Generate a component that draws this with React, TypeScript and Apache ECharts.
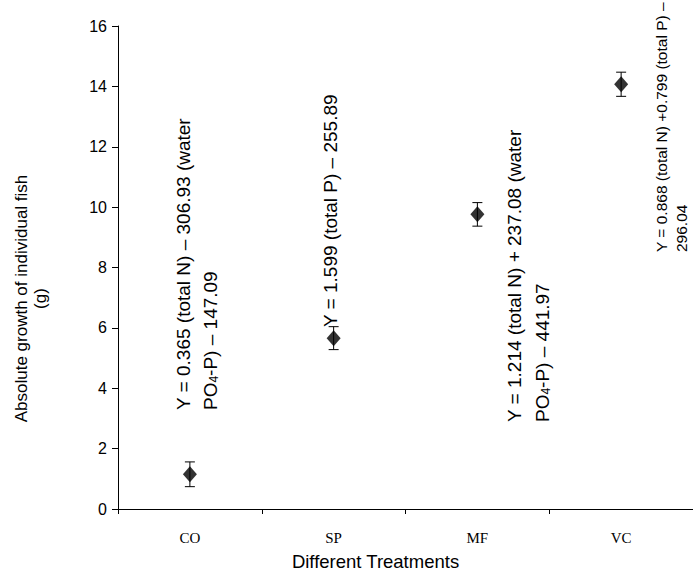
import React, { useEffect, useRef } from 'react';
import * as echarts from 'echarts';

// ---- data ----
const categories = ['CO', 'SP', 'MF', 'VC'];
const growthMean = [1.15, 5.66, 9.76, 14.07];
const growthError = [0.41, 0.38, 0.39, 0.4];
const yMin = 0;
const yMax = 16;
const yStep = 2;
const yAxisTitle = 'Absolute growth of individual fish\n(g)';
const xAxisTitle = 'Different Treatments';
const equationLines = [
  ['Y = 0.365 (total N) – 306.93 (water', 'PO{s|4}-P) – 147.09'],
  ['Y = 1.599 (total P) – 255.89'],
  ['Y = 1.214 (total N) + 237.08 (water', 'PO{s|4}-P) – 441.97'],
  ['Y = 0.868 (total N) +0.799 (total P) –', '296.04'],
];

// ---- layout (pixels) ----
const equationAnchors = [
  [183, 410],
  [330, 327],
  [514, 422],
  [661, 252],
];
const equationFontSizes = [19, 19, 19, 15.5];
const equationLineGaps = [27, 27, 28, 20];

const SANS = '"Liberation Sans", Arial, sans-serif';
const SERIF = '"Liberation Serif", "Times New Roman", serif';

export default function App() {
  const ref = useRef<HTMLDivElement>(null);

  useEffect(() => {
    if (!ref.current) return;
    const chart = echarts.init(ref.current, undefined, { renderer: 'svg' });

    const graphic: any[] = [];
    equationLines.forEach((lines, i) => {
      const fs = equationFontSizes[i];
      lines.forEach((t, j) => {
        graphic.push({
          type: 'text',
          x: equationAnchors[i][0] + j * equationLineGaps[i],
          y: equationAnchors[i][1],
          rotation: Math.PI / 2,
          style: {
            text: t,
            fill: '#000',
            fontSize: fs,
            fontFamily: SANS,
            textAlign: 'left',
            textVerticalAlign: 'middle',
            align: 'left',
            verticalAlign: 'middle',
            rich: {
              s: {
                fontSize: Math.round(fs * 0.65),
                fontFamily: SANS,
                fill: '#000',
                verticalAlign: 'bottom',
              },
            },
          },
        });
      });
    });

    chart.setOption({
      animation: false,
      backgroundColor: '#fff',
      grid: { left: 118, top: 26, right: -8, bottom: 61, containLabel: false },
      xAxis: {
        type: 'category',
        data: categories,
        boundaryGap: true,
        axisLine: { show: true, lineStyle: { color: '#000', width: 1 } },
        axisTick: { show: true, length: 5, lineStyle: { color: '#000' } },
        axisLabel: { fontFamily: SERIF, fontSize: 15, color: '#000', margin: 21 },
        splitLine: { show: false },
        name: xAxisTitle,
        nameLocation: 'middle',
        nameGap: 43,
        nameTextStyle: { fontFamily: SANS, fontSize: 18.5, color: '#000', padding: [0, 60, 0, 0] },
      },
      yAxis: {
        type: 'value',
        min: yMin,
        max: yMax,
        interval: yStep,
        axisLine: { show: true, lineStyle: { color: '#000', width: 1 } },
        axisTick: { show: true, length: 6, lineStyle: { color: '#000' } },
        axisLabel: { fontFamily: SANS, fontSize: 16, color: '#000', margin: 11 },
        splitLine: { show: false },
        name: yAxisTitle,
        nameLocation: 'middle',
        nameGap: 68,
        nameTextStyle: {
          fontFamily: SANS,
          fontSize: 17,
          color: '#000',
          lineHeight: 19,
          padding: [0, 62, 0, 0],
        },
      },
      series: [
        {
          type: 'custom',
          name: 'error',
          data: growthMean.map((m, i) => [i, m - growthError[i], m + growthError[i]]),
          renderItem: (params: any, api: any) => {
            const x = api.value(0);
            const lo = api.coord([x, api.value(1)]);
            const hi = api.coord([x, api.value(2)]);
            const cap = 5;
            const st = { stroke: '#000', lineWidth: 1 };
            return {
              type: 'group',
              children: [
                { type: 'line', shape: { x1: lo[0], y1: lo[1], x2: hi[0], y2: hi[1] }, style: st },
                { type: 'line', shape: { x1: lo[0] - cap, y1: lo[1], x2: lo[0] + cap, y2: lo[1] }, style: st },
                { type: 'line', shape: { x1: hi[0] - cap, y1: hi[1], x2: hi[0] + cap, y2: hi[1] }, style: st },
              ],
            };
          },
          z: 2,
        },
        {
          type: 'scatter',
          name: 'growth',
          data: growthMean.map((m, i) => [i, m]),
          symbol: 'diamond',
          symbolSize: [14, 16],
          itemStyle: { color: '#000' },
          z: 3,
        },
      ],
      graphic,
    });

    return () => chart.dispose();
  }, []);

  return (
    <div
      ref={ref}
      style={{ position: 'fixed', left: 0, top: 0, width: 693, height: 576, background: '#fff' }}
    />
  );
}
